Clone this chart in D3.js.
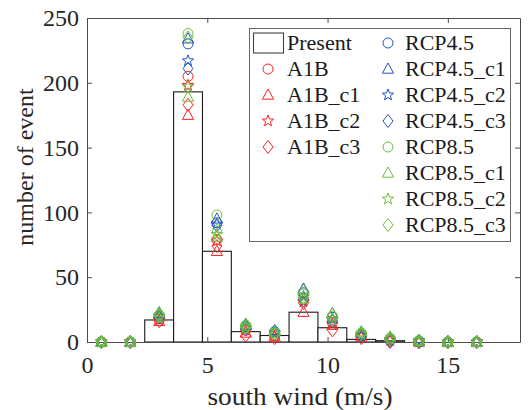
<!DOCTYPE html>
<html>
<head>
<meta charset="utf-8">
<script src="https://cdn.jsdelivr.net/npm/d3@7"></script>
<style>
  html, body { margin: 0; padding: 0; background: #fff; }
  svg { display: block; font-family: "Liberation Serif", "Times New Roman", serif; }
</style>
</head>
<body>
<svg id="chart" width="528" height="410"></svg>
<script>
// Histogram bins of south wind speed (m/s), bin width 1.2
const binCenters = [0.6, 1.8, 3.0, 4.2, 5.4, 6.6, 7.8, 9.0, 10.2, 11.4, 12.6, 13.8, 15.0, 16.2];
const binWidth = 1.2;

// Present-climate event counts per bin
const present = [0, 0, 17, 193, 70, 8, 5, 23, 11, 2, 1, 0, 0, 0];

// Projected event counts per bin
const a1b      = [0, 0, 18, 205, 79, 9, 5, 33, 15, 5, 2, 0, 0, 0];
const a1bC1    = [0, 0, 16, 175, 70, 7, 4, 23, 13, 4, 3, 0, 0, 0];
const a1bC2    = [0, 0, 17, 198, 78, 9, 4, 31, 14, 4, 1, 0, 0, 0];
const a1bC3    = [0, 0, 16, 183, 74, 5, 3, 30, 9, 3, 0, 0, 0, 0];
const rcp45    = [0, 0, 20, 230, 92, 12, 8, 38, 19, 6, 2, 1, 0, 0];
const rcp45C1  = [0, 0, 22, 234, 95, 13, 9, 41, 22, 7, 3, 1, 0, 0];
const rcp45C2  = [0, 0, 20, 217, 91, 11, 7, 35, 18, 5, 2, 1, 0, 0];
const rcp45C3  = [0, 0, 19, 211, 90, 10, 6, 32, 16, 5, 1, 0, 0, 0];
const rcp85    = [0, 0, 21, 238, 98, 13, 7, 37, 20, 7, 3, 1, 0, 0];
const rcp85C1  = [0, 0, 23, 189, 81, 14, 8, 40, 22, 8, 4, 1, 0, 0];
const rcp85C2  = [0, 0, 19, 197, 83, 11, 6, 33, 17, 6, 2, 0, 0, 0];
const rcp85C3  = [0, 0, 20, 235, 86, 11, 6, 34, 17, 6, 2, 1, 0, 0];

const seriesNames = ["A1B", "A1B_c1", "A1B_c2", "A1B_c3",
                     "RCP4.5", "RCP4.5_c1", "RCP4.5_c2", "RCP4.5_c3",
                     "RCP8.5", "RCP8.5_c1", "RCP8.5_c2", "RCP8.5_c3"];
const seriesValues = [a1b, a1bC1, a1bC2, a1bC3,
                      rcp45, rcp45C1, rcp45C2, rcp45C3,
                      rcp85, rcp85C1, rcp85C2, rcp85C3];

const xTicks = [0, 5, 10, 15];
const yTicks = [0, 50, 100, 150, 200, 250];

const RED = "#ff2222", BLUE = "#2255c4", GREEN = "#6cbf3a";
const groupColors = [RED, BLUE, GREEN];
const markerKinds = ["circle", "triangle", "star", "diamond"];

const series = seriesNames.map((name, i) => ({
  name,
  values: seriesValues[i],
  color: groupColors[Math.floor(i / 4)],
  kind: markerKinds[i % 4]
}));

const svg = d3.select("#chart");
const margin = { left: 87, right: 8, top: 18, bottom: 68 };
const W = 528, H = 410;
const x = d3.scaleLinear().domain([0, 18]).range([margin.left, W - margin.right]);
const y = d3.scaleLinear().domain([0, 250]).range([H - margin.bottom, margin.top]);

// Marker path generators (centered on 0,0)
function markerPath(kind) {
  const p = d3.path();
  if (kind === "circle") {
    p.arc(0, 0, 5, 0, 2 * Math.PI);
  } else if (kind === "triangle") {
    p.moveTo(0, -6); p.lineTo(5.6, 4.2); p.lineTo(-5.6, 4.2); p.closePath();
  } else if (kind === "diamond") {
    p.moveTo(0, -6.5); p.lineTo(5, 0); p.lineTo(0, 6.5); p.lineTo(-5, 0); p.closePath();
  } else if (kind === "star") {
    const ro = 6, ri = 2.5;
    for (let k = 0; k < 10; k++) {
      const r = k % 2 === 0 ? ro : ri;
      const a = -Math.PI / 2 + k * Math.PI / 5;
      const px = r * Math.cos(a), py = r * Math.sin(a);
      if (k === 0) p.moveTo(px, py); else p.lineTo(px, py);
    }
    p.closePath();
  }
  return p.toString();
}

// Present histogram bars
svg.append("g").selectAll("rect")
  .data(binCenters.map((c, i) => ({ c, v: present[i] })))
  .join("rect")
  .attr("x", d => x(d.c - binWidth / 2))
  .attr("y", d => y(d.v))
  .attr("width", d => x(d.c + binWidth / 2) - x(d.c - binWidth / 2))
  .attr("height", d => y(0) - y(d.v))
  .attr("fill", "white")
  .attr("stroke", "#1a1a1a")
  .attr("stroke-width", 1.1);

// Axes box with inward ticks
const axisColor = "#4d4d4d";
const tickColor = "#262626";
const g = svg.append("g");

const xAxisB = d3.axisBottom(x).tickValues(xTicks).tickSizeInner(-5).tickSizeOuter(0).tickPadding(9);
const xAxisT = d3.axisTop(x).tickValues(xTicks).tickSizeInner(-5).tickSizeOuter(0).tickFormat("");
const yAxisL = d3.axisLeft(y).tickValues(yTicks).tickSizeInner(-5).tickSizeOuter(0).tickPadding(8);
const yAxisR = d3.axisRight(y).tickValues(yTicks).tickSizeInner(-5).tickSizeOuter(0).tickFormat("");

function styleAxis(sel) {
  sel.select(".domain").attr("stroke", axisColor);
  sel.selectAll(".tick line").attr("stroke", axisColor);
  sel.selectAll(".tick text")
    .attr("fill", tickColor)
    .style("font-family", "'Liberation Serif', 'Times New Roman', serif")
    .style("font-size", "24px");
}

const gx = g.append("g").attr("transform", `translate(0,${y(0)})`).call(xAxisB).call(styleAxis);
g.append("g").attr("transform", `translate(0,${y(250)})`).call(xAxisT).call(styleAxis);
g.append("g").attr("transform", `translate(${x(0)},0)`).call(yAxisL).call(styleAxis);
g.append("g").attr("transform", `translate(${x(18)},0)`).call(yAxisR).call(styleAxis);
gx.selectAll(".tick text").attr("dy", "0.9em");

// Projection markers
series.forEach(s => {
  svg.append("g").selectAll("path")
    .data(binCenters.map((c, i) => ({ c, v: s.values[i] })))
    .join("path")
    .attr("d", markerPath(s.kind))
    .attr("transform", d => `translate(${x(d.c)},${y(d.v)})`)
    .attr("fill", "none")
    .attr("stroke", s.color)
    .attr("stroke-width", 1);
});

// Axis titles
svg.append("text")
  .attr("x", 300)
  .attr("y", 405)
  .attr("text-anchor", "middle")
  .attr("fill", tickColor)
  .attr("textLength", 185)
  .attr("lengthAdjust", "spacingAndGlyphs")
  .style("font-size", "26px")
  .text("south wind (m/s)");

svg.append("text")
  .attr("transform", `translate(33,${(y(0) + y(250)) / 2 - 13}) rotate(-90)`)
  .attr("text-anchor", "middle")
  .attr("fill", tickColor)
  .style("font-size", "24px")
  .text("number of event");

// Legend
const lg = svg.append("g");
lg.append("rect")
  .attr("x", 249.5).attr("y", 28.5)
  .attr("width", 261).attr("height", 213)
  .attr("fill", "white")
  .attr("stroke", "#666")
  .attr("stroke-width", 1);

const rowY = i => 43 + i * 26;
const col1Sym = 268, col1Text = 287, col2Sym = 388, col2Text = 405;

lg.append("rect")
  .attr("x", 253.5).attr("y", 33)
  .attr("width", 30).attr("height", 20)
  .attr("fill", "white").attr("stroke", "#444").attr("stroke-width", 1.1);
lg.append("text")
  .attr("x", col1Text).attr("y", rowY(0)).attr("dy", "0.33em")
  .attr("fill", "#1a1a1a").style("font-size", "22px")
  .text("Present");

series.forEach((s, i) => {
  const inFirst = i < 4;
  const row = inFirst ? i + 1 : i - 4;
  lg.append("path")
    .attr("d", markerPath(s.kind))
    .attr("transform", `translate(${inFirst ? col1Sym : col2Sym},${rowY(row)})`)
    .attr("fill", "none").attr("stroke", s.color).attr("stroke-width", 1);
  lg.append("text")
    .attr("x", inFirst ? col1Text : col2Text).attr("y", rowY(row)).attr("dy", "0.33em")
    .attr("fill", "#1a1a1a").style("font-size", "22px")
    .text(s.name);
});
</script>
</body>
</html>
